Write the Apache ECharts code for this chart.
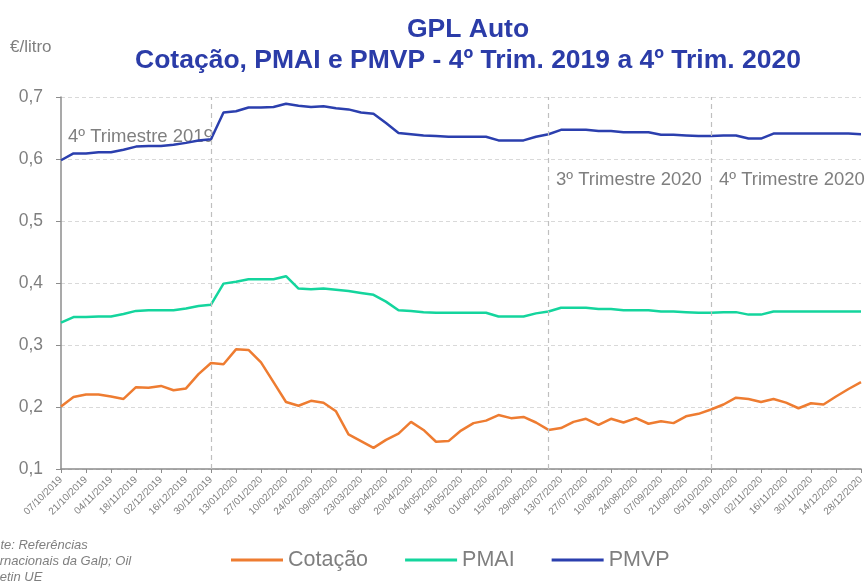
<!DOCTYPE html>
<html>
<head>
<meta charset="utf-8">
<script src="https://cdn.jsdelivr.net/npm/echarts@6/dist/echarts.min.js"></script>
<style>
  html, body { margin: 0; padding: 0; background: #fff; }
  #main { width: 868px; height: 581px; }
</style>
</head>
<body>
<div id="main"></div>
<script>
	var dates = ['07/10/2019','14/10/2019','21/10/2019','28/10/2019','04/11/2019','11/11/2019','18/11/2019','25/11/2019',
		'02/12/2019','09/12/2019','16/12/2019','23/12/2019','30/12/2019',
		'06/01/2020','13/01/2020','20/01/2020','27/01/2020','03/02/2020','10/02/2020','17/02/2020','24/02/2020',
		'02/03/2020','09/03/2020','16/03/2020','23/03/2020','30/03/2020','06/04/2020','13/04/2020','20/04/2020','27/04/2020',
		'04/05/2020','11/05/2020','18/05/2020','25/05/2020','01/06/2020','08/06/2020','15/06/2020','22/06/2020','29/06/2020',
		'06/07/2020','13/07/2020','20/07/2020','27/07/2020','03/08/2020','10/08/2020','17/08/2020','24/08/2020','31/08/2020',
		'07/09/2020','14/09/2020','21/09/2020','28/09/2020','05/10/2020','12/10/2020','19/10/2020','26/10/2020',
		'02/11/2020','09/11/2020','16/11/2020','23/11/2020','30/11/2020','07/12/2020','14/12/2020','21/12/2020','28/12/2020'];

	var cotacao = [0.201,0.216,0.220,0.220,0.217,0.213,0.232,0.231,0.234,0.227,0.230,0.253,0.271,
		0.269,0.293,0.292,0.272,0.240,0.208,0.202,0.210,0.207,0.193,0.156,0.145,0.134,0.147,0.157,0.176,0.163,
		0.144,0.145,0.162,0.174,0.178,0.187,0.182,0.184,0.175,0.163,0.166,0.176,0.181,0.171,0.181,0.175,0.182,0.173,
		0.177,0.174,0.185,0.189,0.196,0.204,0.215,0.213,0.208,0.213,0.207,0.198,0.206,0.204,0.217,0.229,0.240];

	var pmai = [0.336,0.345,0.345,0.346,0.346,0.350,0.355,0.356,0.356,0.356,0.359,0.363,0.365,
		0.399,0.402,0.406,0.406,0.406,0.411,0.391,0.390,0.391,0.389,0.387,0.384,0.381,0.370,0.356,0.355,0.353,
		0.352,0.352,0.352,0.352,0.352,0.346,0.346,0.346,0.351,0.354,0.360,0.360,0.360,0.358,0.358,0.356,0.356,0.356,
		0.354,0.354,0.353,0.352,0.352,0.353,0.353,0.349,0.349,0.354,0.354,0.354,0.354,0.354,0.354,0.354,0.354];

	var pmvp = [0.598,0.609,0.609,0.611,0.611,0.615,0.620,0.621,0.621,0.623,0.626,0.630,0.632,
		0.675,0.677,0.683,0.683,0.684,0.689,0.686,0.684,0.685,0.682,0.680,0.675,0.673,0.658,0.642,0.640,0.638,
		0.637,0.636,0.636,0.636,0.636,0.630,0.630,0.630,0.636,0.640,0.647,0.647,0.647,0.645,0.645,0.643,0.643,0.643,
		0.639,0.639,0.638,0.637,0.637,0.638,0.638,0.633,0.633,0.641,0.641,0.641,0.641,0.641,0.641,0.641,0.640];

	// inicio de cada trimestre (linhas verticais)
	var trimestres = ['30/12/2019','06/07/2020','05/10/2020'];

	var cinza = '#7f7f7f';
	var myChart = echarts.init(document.getElementById('main'));

	var option = {
		animation: false,
		title: {
			text: 'GPL Auto\nCotação, PMAI e PMVP - 4º Trim. 2019 a 4º Trim. 2020',
			left: 463,
			textAlign: 'center',
			top: 9,
			textStyle: {
				fontFamily: 'Liberation Sans',
				fontSize: 26.5,
				fontWeight: 'bold',
				lineHeight: 31,
				color: '#2B3CA8'
			}
		},
		legend: {
			data: ['Cotação', 'PMAI', 'PMVP'],
			left: 226,
			top: 544,
			icon: 'rect',
			itemWidth: 52,
			itemHeight: 3,
			itemGap: 37,
			textStyle: { fontFamily: 'Liberation Sans', fontSize: 21.5, color: cinza }
		},
		graphic: [
			{ type: 'text', left: 10, top: 39, style: { text: '€/litro', font: '17px "Liberation Sans"', fill: cinza } },
			{ type: 'text', left: 68, top: 127, style: { text: '4º Trimestre 2019', font: '18.5px "Liberation Sans"', fill: cinza } },
			{ type: 'text', left: 556, top: 170, style: { text: '3º Trimestre 2020', font: '18.5px "Liberation Sans"', fill: cinza } },
			{ type: 'text', left: 719, top: 170, style: { text: '4º Trimestre 2020', font: '18.5px "Liberation Sans"', fill: cinza } },
			{ type: 'text', x: -22, y: 537, style: {
				text: 'Fonte: Referências\nInternacionais da Galp; Oil\nBulletin UE',
				font: 'italic 13px "Liberation Sans"', fill: cinza, lineHeight: 16 } }
		],
		grid: { left: 61, right: 7, top: 97, bottom: 112 },
		xAxis: {
			type: 'category',
			boundaryGap: false,
			data: dates,
			axisLine: { lineStyle: { color: '#8c8c8c', width: 1.5 } },
			axisTick: { interval: 1, length: 4, lineStyle: { color: '#8c8c8c' } },
			axisLabel: { interval: 1, rotate: 45, fontFamily: 'Liberation Sans', fontSize: 10, color: cinza, margin: 9 },
			splitLine: { show: false }
		},
		yAxis: {
			type: 'value',
			min: 0.1,
			max: 0.7,
			interval: 0.1,
			axisLine: { show: true, lineStyle: { color: '#8c8c8c', width: 1.5 } },
			axisTick: { show: true, length: 5, lineStyle: { color: '#8c8c8c' } },
			axisLabel: {
				fontFamily: 'Liberation Sans', fontSize: 17.5, color: cinza, margin: 18,
				formatter: function (v) { return v.toFixed(1).replace('.', ','); }
			},
			splitLine: { lineStyle: { color: '#d9d9d9', type: [4, 3] } }
		},
		series: [
			{
				name: 'Cotação',
				type: 'line',
				data: cotacao,
				symbol: 'none',
				color: '#EE7C31',
				lineStyle: { width: 2.5 },
				markLine: {
					silent: true,
					symbol: 'none',
					label: { show: false },
					lineStyle: { color: '#bfbfbf', type: [5, 4], width: 1.2 },
					data: trimestres.map(function (d) { return { xAxis: d }; })
				}
			},
			{
				name: 'PMAI',
				type: 'line',
				data: pmai,
				symbol: 'none',
				color: '#14D59D',
				lineStyle: { width: 2.5 }
			},
			{
				name: 'PMVP',
				type: 'line',
				data: pmvp,
				symbol: 'none',
				color: '#2B3FAE',
				lineStyle: { width: 2.5 }
			}
		]
	};

	myChart.setOption(option);
</script>
</body>
</html>
